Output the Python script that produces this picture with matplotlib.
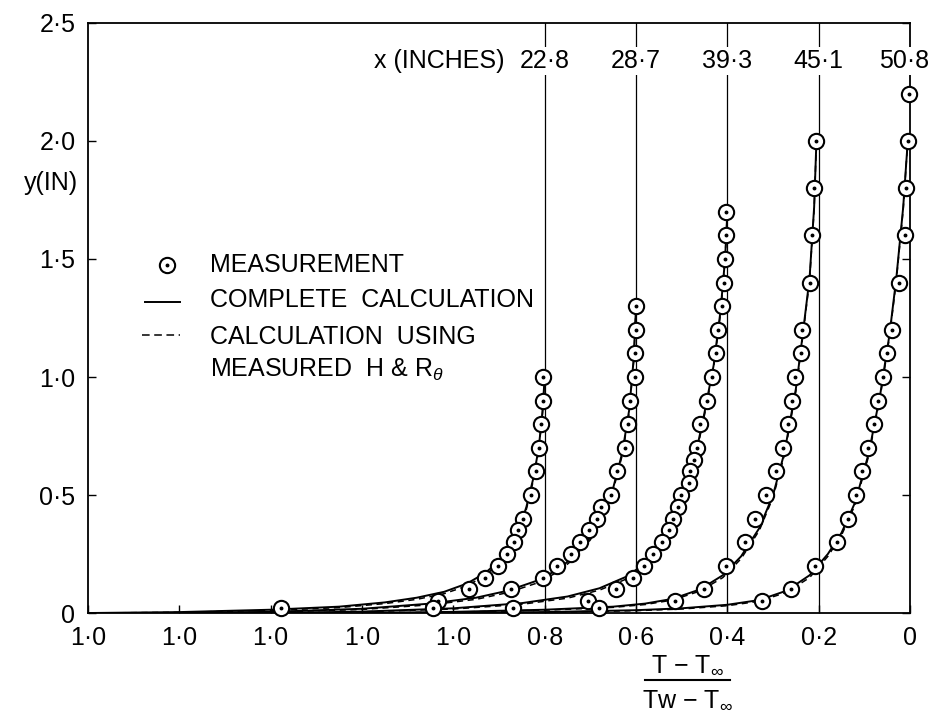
import matplotlib
matplotlib.use("Agg")
import matplotlib.pyplot as plt
from matplotlib.lines import Line2D

plt.rcParams['font.family'] = ['Liberation Sans', 'DejaVu Sans']
plt.rcParams['font.size'] = 18
plt.rcParams['mathtext.fontset'] = 'custom'
plt.rcParams['mathtext.rm'] = 'Liberation Sans'
plt.rcParams['mathtext.it'] = 'Liberation Sans:italic'

# station labels and the x-offset of each profile on the shared axis
stations = ["22·8", "28·7", "39·3", "45·1", "50·8"]
offsets = [0.8, 0.6, 0.4, 0.2, 0.0]

# measured points (theta, y) for each station
meas_theta = [
    [0.004, 0.004, 0.009, 0.013, 0.019, 0.029, 0.048, 0.059, 0.068, 0.083, 0.103, 0.131, 0.166, 0.234, 0.578],
    [0.0, 0.0, 0.002, 0.002, 0.013, 0.018, 0.024, 0.042, 0.055, 0.077, 0.086, 0.104, 0.123, 0.142, 0.172,
     0.203, 0.274, 0.444],
    [0.003, 0.003, 0.005, 0.008, 0.012, 0.020, 0.025, 0.034, 0.044, 0.059, 0.066, 0.074, 0.081, 0.085,
     0.101, 0.107, 0.120, 0.128, 0.144, 0.162, 0.183, 0.206, 0.243, 0.306, 0.470],
    [0.007, 0.010, 0.015, 0.020, 0.037, 0.039, 0.051, 0.058, 0.067, 0.078, 0.093, 0.115, 0.140, 0.162,
     0.202, 0.252, 0.315, 0.480],
    [0.002, 0.004, 0.008, 0.012, 0.025, 0.040, 0.050, 0.060, 0.070, 0.080, 0.092, 0.105, 0.118, 0.135,
     0.160, 0.208, 0.260, 0.325],
]
meas_y = [
    [1.0, 0.9, 0.8, 0.7, 0.6, 0.5, 0.4, 0.35, 0.3, 0.25, 0.2, 0.15, 0.1, 0.05, 0.02],
    [1.3, 1.2, 1.1, 1.0, 0.9, 0.8, 0.7, 0.6, 0.5, 0.45, 0.4, 0.35, 0.3, 0.25, 0.2, 0.15, 0.1, 0.02],
    [1.7, 1.6, 1.5, 1.4, 1.3, 1.2, 1.1, 1.0, 0.9, 0.8, 0.7, 0.65, 0.6, 0.55, 0.5, 0.45, 0.4, 0.35, 0.3,
     0.25, 0.2, 0.15, 0.1, 0.05, 0.02],
    [2.0, 1.8, 1.6, 1.4, 1.2, 1.1, 1.0, 0.9, 0.8, 0.7, 0.6, 0.5, 0.4, 0.3, 0.2, 0.1, 0.05, 0.02],
    [2.2, 2.0, 1.8, 1.6, 1.4, 1.2, 1.1, 1.0, 0.9, 0.8, 0.7, 0.6, 0.5, 0.4, 0.3, 0.2, 0.1, 0.05],
]

# calculated profiles: theta grid, complete calculation (solid), using measured H & R_theta (dashed)
calc_theta = [
    [1.0, 0.8, 0.6, 0.45, 0.35, 0.28, 0.22, 0.17, 0.13, 0.10, 0.075, 0.055, 0.04, 0.025, 0.013, 0.005, 0.0],
    [1.0, 0.8, 0.6, 0.45, 0.35, 0.28, 0.22, 0.17, 0.13, 0.10, 0.075, 0.05, 0.03, 0.015, 0.005, 0.0],
    [1.0, 0.8, 0.6, 0.45, 0.35, 0.28, 0.22, 0.17, 0.13, 0.10, 0.075, 0.05, 0.03, 0.015, 0.005, 0.0],
    [1.0, 0.8, 0.6, 0.45, 0.38, 0.32, 0.26, 0.21, 0.17, 0.13, 0.10, 0.075, 0.05, 0.035, 0.02, 0.01, 0.005],
    [1.0, 0.8, 0.6, 0.5, 0.4, 0.33, 0.27, 0.22, 0.18, 0.15, 0.12, 0.09, 0.065, 0.045, 0.03, 0.015, 0.005],
]
solid_y = [
    [0.0, 0.004, 0.014, 0.027, 0.045, 0.065, 0.09, 0.125, 0.17, 0.22, 0.28, 0.36, 0.45, 0.57, 0.70, 0.85, 1.0],
    [0.0, 0.005, 0.018, 0.04, 0.065, 0.095, 0.135, 0.185, 0.25, 0.32, 0.41, 0.53, 0.68, 0.86, 1.08, 1.3],
    [0.0, 0.006, 0.02, 0.042, 0.07, 0.105, 0.155, 0.225, 0.32, 0.45, 0.62, 0.85, 1.05, 1.28, 1.5, 1.7],
    [0.0, 0.005, 0.014, 0.027, 0.04, 0.06, 0.1, 0.16, 0.24, 0.36, 0.5, 0.68, 0.95, 1.18, 1.42, 1.72, 2.0],
    [0.0, 0.004, 0.012, 0.02, 0.035, 0.055, 0.095, 0.16, 0.25, 0.34, 0.47, 0.68, 0.93, 1.18, 1.42, 1.72, 2.0],
]
dashed_y = [
    [0.0, 0.003, 0.011, 0.023, 0.040, 0.058, 0.082, 0.115, 0.16, 0.21, 0.27, 0.35, 0.44, 0.56, 0.69, 0.84, 1.0],
    [0.0, 0.004, 0.015, 0.035, 0.058, 0.087, 0.125, 0.175, 0.24, 0.31, 0.40, 0.52, 0.67, 0.85, 1.07, 1.3],
    [0.0, 0.005, 0.017, 0.037, 0.063, 0.097, 0.145, 0.215, 0.31, 0.44, 0.61, 0.84, 1.04, 1.27, 1.5, 1.7],
    [0.0, 0.004, 0.012, 0.024, 0.036, 0.055, 0.093, 0.15, 0.23, 0.35, 0.49, 0.67, 0.94, 1.17, 1.41, 1.71, 2.0],
    [0.0, 0.003, 0.01, 0.017, 0.031, 0.05, 0.088, 0.15, 0.24, 0.33, 0.46, 0.67, 0.92, 1.17, 1.41, 1.71, 2.0],
]

xtick_pos = [1.8, 1.6, 1.4, 1.2, 1.0, 0.8, 0.6, 0.4, 0.2, 0.0]
xtick_labels = ["1·0", "1·0", "1·0", "1·0", "1·0", "0·8", "0·6", "0·4", "0·2", "0"]
ytick_pos = [0, 0.5, 1.0, 1.5, 2.0, 2.5]
ytick_labels = ["0", "0·5", "1·0", "1·5", "2·0", "2·5"]

fig = plt.figure(figsize=(9.33, 7.18), dpi=100)
ax = fig.add_axes([0.0943, 0.1462, 0.8811, 0.8218])

for i in range(len(stations)):
    off = offsets[i]
    ax.plot([t + off for t in calc_theta[i]], solid_y[i], color='black', lw=1.4, zorder=3)
    ax.plot([t + off for t in calc_theta[i]], dashed_y[i], color='black', lw=1.1,
            linestyle=(0, (4, 3)), zorder=3)
    mx = [t + off for t in meas_theta[i]]
    ax.plot(mx, meas_y[i], linestyle='none', marker='o', ms=11, mfc='white', mec='black',
            mew=1.5, zorder=5, clip_on=False)
    ax.plot(mx, meas_y[i], linestyle='none', marker='o', ms=1.8, color='black', zorder=6,
            clip_on=False)
    # station line and label
    if off > 0:
        ax.plot([off, off], [0, 2.5], color='black', lw=0.9, zorder=2)
    lx = off if off > 0 else 0.012
    ax.text(lx, 2.34, stations[i], ha='center', va='center', zorder=8, clip_on=False,
            bbox=dict(fc='white', ec='none', pad=1.5))

ax.text(1.03, 2.34, "x (INCHES)", ha='center', va='center')

ax.set_xlim(1.8, 0)
ax.set_ylim(0, 2.5)
ax.set_xticks(xtick_pos)
ax.set_xticklabels(xtick_labels)
ax.set_yticks(ytick_pos)
ax.set_yticklabels(ytick_labels)
ax.tick_params(direction='in', length=6, width=1, right=True, top=False, pad=9)
for sp in ax.spines.values():
    sp.set_linewidth(1.3)

# legend drawn by hand
ax.plot([0.0958], [0.5898], transform=ax.transAxes, marker='o', ms=11, mfc='white', mec='black',
        mew=1.5, clip_on=False)
ax.plot([0.0958], [0.5898], transform=ax.transAxes, marker='o', ms=1.8, color='black', clip_on=False)
ax.add_line(Line2D([0.0693, 0.1119], [0.5276, 0.5276], transform=ax.transAxes, color='black', lw=1.4))
ax.add_line(Line2D([0.0657, 0.1119], [0.4712, 0.4712], transform=ax.transAxes, color='black', lw=1.1,
                   linestyle=(0, (5, 3))))
ax.text(0.1484, 0.5898, "MEASUREMENT", transform=ax.transAxes, va='center')
ax.text(0.1484, 0.5305, "COMPLETE  CALCULATION", transform=ax.transAxes, va='center')
ax.text(0.1484, 0.4678, "CALCULATION  USING", transform=ax.transAxes, va='center')
ax.text(0.1484, 0.4119, r"MEASURED  H & R$_{\theta}$", transform=ax.transAxes, va='center')

# axis titles
ax.text(-0.012, 1.82, "y(IN)", transform=ax.get_yaxis_transform(), ha='right', va='center')
fig.text(0.7374, 0.0738, r"T $-$ T$_{\infty}$", ha='center', va='center')
fig.add_artist(Line2D([0.6913, 0.7824], [0.0529, 0.0529], color='black', lw=1.5))
fig.text(0.7374, 0.0251, r"Tw $-$ T$_{\infty}$", ha='center', va='center')

fig.savefig("out.png", dpi=100)
